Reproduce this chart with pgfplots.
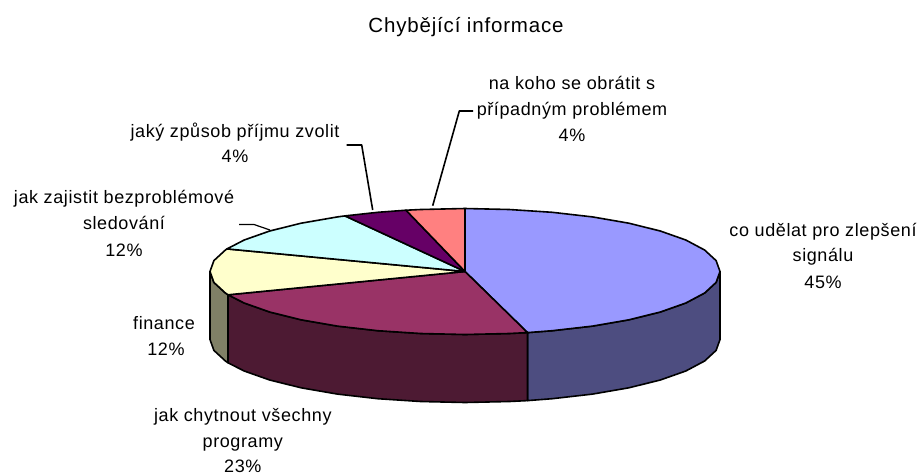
\documentclass[border=0pt]{standalone}
\usepackage{pgfplots}
\pgfplotsset{compat=1.18}
\usepackage{fontspec}
\setmainfont{Liberation Sans}
\newfontfamily\labfont[LetterSpace=3.4]{Liberation Sans}
\newfontfamily\titfont[LetterSpace=4.0]{Liberation Sans}
\definecolor{cblue}{HTML}{9999FF}
\definecolor{cmaroon}{HTML}{993366}
\definecolor{cyellow}{HTML}{FFFFCC}
\definecolor{ccyan}{HTML}{CCFFFF}
\definecolor{cpurple}{HTML}{660066}
\definecolor{cpink}{HTML}{FF8080}
\definecolor{sblue}{HTML}{4D4D80}
\definecolor{smaroon}{HTML}{4D1A33}
\definecolor{solive}{HTML}{808066}
\tikzset{lab/.style={font=\labfont\fontsize{18}{20}\selectfont, text=black, inner sep=0pt, anchor=base}}
\begin{document}
\begin{tikzpicture}
\useasboundingbox (0,0) rectangle (922pt,475pt);
\begin{axis}[
  at={(0,0)}, anchor=south west,
  scale only axis, width=922pt, height=475pt,
  xmin=0, xmax=922, ymin=0, ymax=475, y dir=reverse,
  hide axis, clip=false, enlargelimits=false,
  every axis plot/.append style={no marks, draw=black, line width=1.6pt, line join=round},
]
% side walls
\addplot[fill=sblue] coordinates {(720,271.5)(720,339.5)(716.1,350.4)(704.6,361)(685.8,371)(660.3,380)(628.9,387.8)(592.5,394.1)(552.2,398.7)(527.5,400.6)(527.5,332.6)(552.2,330.7)(592.5,326.1)(628.9,319.8)(660.3,312)(685.8,303)(704.6,293)(716.1,282.4)(720,271.5)};
\addplot[fill=smaroon] coordinates {(527.5,332.6)(527.5,400.6)(509.3,401.5)(465,402.5)(420.7,401.5)(377.8,398.7)(337.5,394.1)(301.1,387.8)(269.7,380)(244.2,371)(228,362.8)(228,294.8)(244.2,303)(269.7,312)(301.1,319.8)(337.5,326.1)(377.8,330.7)(420.7,333.5)(465,334.5)(509.3,333.5)(527.5,332.6)};
\addplot[fill=solive] coordinates {(228,294.8)(228,362.8)(225.4,361)(213.9,350.4)(210,339.5)(210,271.5)(213.9,282.4)(225.4,293)(228,294.8)};
% top slices
\addplot[fill=cblue] coordinates {(465,271.5)(465,208.5)(509.3,209.5)(552.2,212.3)(592.5,216.9)(628.9,223.2)(660.3,231)(685.8,240)(704.6,250)(716.1,260.6)(720,271.5)(716.1,282.4)(704.6,293)(685.8,303)(660.3,312)(628.9,319.8)(592.5,326.1)(552.2,330.7)(527.5,332.6)(465,271.5)};
\addplot[fill=cmaroon] coordinates {(465,271.5)(527.5,332.6)(509.3,333.5)(465,334.5)(420.7,333.5)(377.8,330.7)(337.5,326.1)(301.1,319.8)(269.7,312)(244.2,303)(228,294.8)(465,271.5)};
\addplot[fill=cyellow] coordinates {(465,271.5)(228,294.8)(225.4,293)(213.9,282.4)(210,271.5)(213.9,260.6)(225.4,250)(227,248.9)(465,271.5)};
\addplot[fill=ccyan] coordinates {(465,271.5)(227,248.9)(244.2,240)(269.7,231)(301.1,223.2)(337.5,216.9)(345,215.9)(465,271.5)};
\addplot[fill=cpurple] coordinates {(465,271.5)(345,215.9)(377.8,212.3)(406,210.2)(465,271.5)};
\addplot[fill=cpink] coordinates {(465,271.5)(406,210.2)(420.7,209.5)(465,208.5)(465,271.5)};
% leader lines
\addplot[black] coordinates {(432.7,205.7)(459.3,111)(473,111)};
\addplot[black] coordinates {(372.7,210)(361.7,145)(346.7,145)};
\addplot[black,line width=1.2pt] coordinates {(239,224.5)(254,224.5)(270,230)};
% text
\node[lab,font=\titfont\fontsize{20.5}{22}\selectfont] at (axis cs:466,32) {Chybějící informace};
\node[lab] at (axis cs:572,89) {na koho se obrátit s};
\node[lab] at (axis cs:572,115) {případným problémem};
\node[lab] at (axis cs:572,141.5) {4\%};
\node[lab] at (axis cs:235,137) {jaký způsob příjmu zvolit};
\node[lab] at (axis cs:235,162) {4\%};
\node[lab] at (axis cs:124,203.5) {jak zajistit bezproblémové};
\node[lab] at (axis cs:124,229.5) {sledování};
\node[lab] at (axis cs:124,256) {12\%};
\node[lab] at (axis cs:164,329.5) {finance};
\node[lab] at (axis cs:166,355.7) {12\%};
\node[lab] at (axis cs:823,236.7) {co udělat pro zlepšení};
\node[lab] at (axis cs:823,261.7) {signálu};
\node[lab] at (axis cs:823,288.3) {45\%};
\node[lab] at (axis cs:242.8,421.7) {jak chytnout všechny};
\node[lab] at (axis cs:242.8,447.5) {programy};
\node[lab] at (axis cs:242.8,472.5) {23\%};
\end{axis}
\end{tikzpicture}
\end{document}
